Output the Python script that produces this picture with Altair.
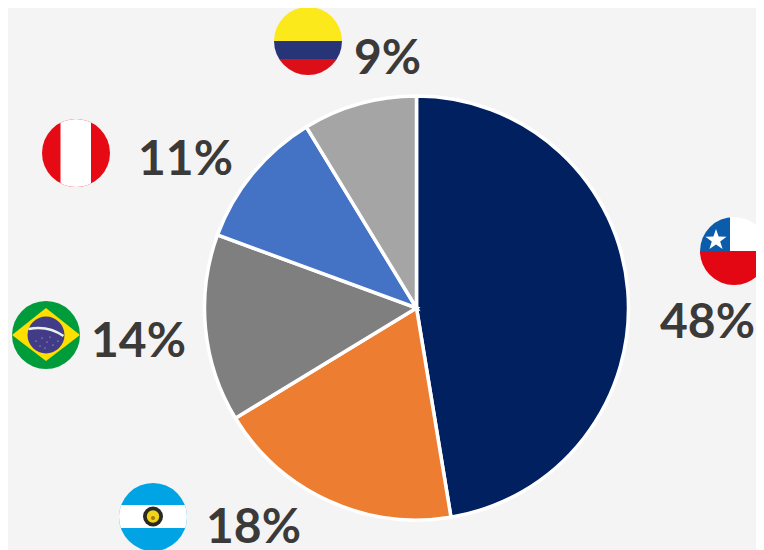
import urllib.parse
import altair as alt
import pandas as pd

countries = ["Chile", "Argentina", "Brasil", "Perú", "Colombia"]
shares = [47.4, 18.9, 14.3, 10.7, 8.7]
labels = ["48%", "18%", "14%", "11%", "9%"]
colors = ["#002060", "#ED7D31", "#7F7F7F", "#4472C4", "#A5A5A5"]
label_left = [652, 198, 83, 130, 346]
label_base = [330, 535, 349, 167, 66]
flag_x = [726, 145, 38, 68, 300]
flag_y = [243, 509, 327, 145, 33]

BG = "#F4F4F4"
TEXT = "#3B3A39"
W, H = 748, 542


def flag(body):
    svg = (
        '<svg xmlns="http://www.w3.org/2000/svg" width="272" height="272" viewBox="0 0 68 68">'
        '<defs><clipPath id="c"><circle cx="34" cy="34" r="34"/></clipPath></defs>'
        f'<g clip-path="url(#c)">{body}</g></svg>'
    )
    return "data:image/svg+xml," + urllib.parse.quote(svg)


flags = [
    # Chile
    flag('<rect width="68" height="68" fill="#fff"/>'
         '<rect y="34" width="68" height="34" fill="#E30613"/>'
         '<rect width="30" height="34" fill="#0B5CAB"/>'
         '<polygon fill="#fff" points="16,12 18.6,19.6 26.6,19.7 20.2,24.5 22.6,32 16,27.5 9.4,32 11.8,24.5 5.4,19.7 13.4,19.6"/>'),
    # Argentina
    flag('<rect width="68" height="68" fill="#00A3E4"/>'
         '<rect y="22" width="68" height="23" fill="#fff"/>'
         '<circle cx="34" cy="33.5" r="10" fill="#2A2A22"/>'
         '<circle cx="34" cy="33.5" r="6.2" fill="#F2D21B"/>'
         '<circle cx="34" cy="35" r="2" fill="#9A7F10"/>'),
    # Brasil
    flag('<rect width="68" height="68" fill="#009B3A"/>'
         '<polygon fill="#FEDF00" points="34,7 68,34 34,60 0,34"/>'
         '<circle cx="34" cy="34" r="18.5" fill="#423B87"/>'
         '<path d="M16.5,28 Q36,24 51.5,35" stroke="#E8F2E8" stroke-width="2.6" fill="none"/>'
         '<g fill="#D9D9EC"><circle cx="24" cy="40" r=".6"/><circle cx="30" cy="37" r=".6"/>'
         '<circle cx="35" cy="41" r=".6"/><circle cx="41" cy="44" r=".6"/><circle cx="28" cy="45" r=".6"/>'
         '<circle cx="46" cy="40" r=".6"/><circle cx="38" cy="36" r=".6"/><circle cx="33" cy="47" r=".6"/></g>'),
    # Perú
    flag('<rect width="68" height="68" fill="#E60A14"/>'
         '<rect x="18.5" width="30.5" height="68" fill="#fff"/>'),
    # Colombia
    flag('<rect width="68" height="34" fill="#FBE91C"/>'
         '<rect y="34" width="68" height="18" fill="#283478"/>'
         '<rect y="52" width="68" height="16" fill="#DC0F19"/>'),
]

pie_df = pd.DataFrame({"country": countries, "share": shares, "order": range(len(countries))})
label_df = pd.DataFrame({"label": labels, "x": label_left, "y": label_base})
flag_df = pd.DataFrame({"url": flags, "x": flag_x, "y": flag_y})

pie = alt.Chart(pie_df).mark_arc(
    outerRadius=212, stroke="#FFFFFF", strokeWidth=3.5, strokeJoin="miter"
).encode(
    theta=alt.Theta("share:Q", stack=True, scale=alt.Scale(range=[0, 6.283185307])),
    order=alt.Order("order:Q"),
    color=alt.Color("country:N", scale=alt.Scale(domain=countries, range=colors), legend=None),
    x=alt.value(408.5),
    y=alt.value(300),
)

texts = alt.Chart(label_df).mark_text(
    font="Lato", fontWeight="bold", fontSize=48, color=TEXT, align="left", baseline="alphabetic"
).encode(
    x=alt.X("x:Q", scale=None),
    y=alt.Y("y:Q", scale=None),
    text="label:N",
)

images = alt.Chart(flag_df).mark_image(width=68, height=68).encode(
    x=alt.X("x:Q", scale=None),
    y=alt.Y("y:Q", scale=None),
    url="url:N",
)

chart = (
    alt.layer(pie, texts, images)
    .resolve_scale(theta="independent")
    .properties(width=W, height=H, background=BG, padding=0,
                autosize=alt.AutoSizeParams(type="none"))
    .configure_view(stroke=None)
    .configure_axis(disable=True)
)

chart.save("out.html", embed_options={"renderer": "svg", "actions": False})
